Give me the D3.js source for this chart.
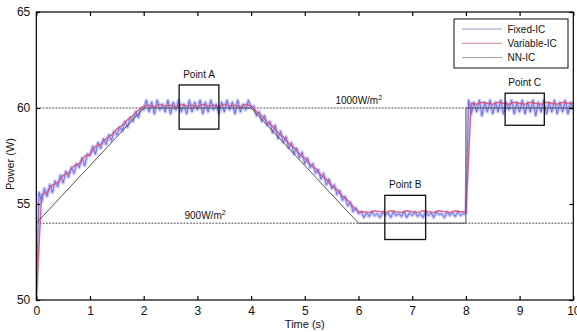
<!DOCTYPE html>
<html>
<head>
<meta charset="utf-8">
<script src="https://cdn.jsdelivr.net/npm/d3@7"></script>
<style>
  html, body { margin: 0; padding: 0; background: #fff; }
  svg { display: block; font-family: "Liberation Sans", Arial, sans-serif; }
</style>
</head>
<body>
<svg id="chart" width="577" height="332"></svg>
<script>
// ---------------- DATA ----------------
const xTicks = [0, 1, 2, 3, 4, 5, 6, 7, 8, 9, 10];
const yTicks = [50, 55, 60, 65];

const fixedStep = 0.05;
const fixedIC = [
  50.0,
  55.6, 55.1, 55.8, 55.4, 56.0, 55.6, 56.2, 55.9, 56.5, 56.1,
  56.7, 56.4, 56.9, 56.6, 57.1, 56.9, 57.4, 57.0, 57.6, 57.5,
  58.0, 57.6, 58.2, 57.9, 58.4, 58.1, 58.6, 58.3, 58.8, 58.6,
  59.0, 58.8, 59.3, 59.0, 59.5, 59.3, 59.8, 59.5, 60.0, 59.9,
  60.4, 59.8, 60.3, 59.7, 60.4, 59.9, 60.2, 59.8, 60.4, 59.7,
  60.3, 59.9, 60.4, 59.8, 60.2, 59.7, 60.4, 59.8, 60.3, 59.9,
  60.4, 59.7, 60.3, 59.8, 60.4, 59.9, 60.2, 59.7, 60.3, 59.8,
  60.4, 59.9, 60.3, 59.7, 60.4, 59.8, 60.2, 59.9, 60.4, 60.0,
  60.1, 59.6, 59.8, 59.3, 59.6, 59.1, 59.3, 58.7, 59.1, 58.4,
  58.8, 58.2, 58.5, 57.9, 58.2, 57.6, 57.9, 57.4, 57.7, 57.1,
  57.4, 56.9, 57.1, 56.6, 56.8, 56.3, 56.6, 56.0, 56.3, 55.8,
  56.0, 55.5, 55.7, 55.2, 55.4, 54.9, 55.1, 54.6, 54.8, 54.5,
  54.6, 54.3, 54.55, 54.35, 54.6, 54.4, 54.5, 54.3, 54.6, 54.4,
  54.55, 54.3, 54.6, 54.4, 54.5, 54.35, 54.6, 54.3, 54.55, 54.4,
  54.6, 54.35, 54.5, 54.3, 54.6, 54.4, 54.55, 54.3, 54.6, 54.45,
  54.5, 54.3, 54.6, 54.4, 54.55, 54.35, 54.6, 54.4, 54.5, 54.5,
  60.4, 59.7, 60.3, 59.8, 60.4, 59.6, 60.3, 59.8, 60.4, 59.7,
  60.3, 59.8, 60.4, 59.7, 60.3, 59.9, 60.4, 59.7, 60.3, 59.8,
  60.4, 59.7, 60.3, 59.8, 60.4, 59.6, 60.3, 59.8, 60.4, 59.7,
  60.3, 59.8, 60.4, 59.7, 60.3, 59.8, 60.4, 59.7, 60.3, 59.9
];

// Variable-IC, sampled every 0.1 s
const variableStep = 0.1;
const variableIC = [
  50.0,
  55.5, 55.6, 56.0, 56.1, 56.5, 56.6, 57.0, 57.1, 57.5, 57.6,
  58.0, 58.1, 58.4, 58.6, 58.9, 59.1, 59.4, 59.6, 59.9, 60.1,
  60.15, 60.05, 60.2, 60.1, 60.15, 60.05, 60.2, 60.1, 60.15, 60.05,
  60.2, 60.1, 60.15, 60.05, 60.2, 60.1, 60.15, 60.05, 60.2, 60.1,
  59.8, 59.6, 59.25, 59.05, 58.7, 58.5, 58.15, 57.95, 57.6, 57.4,
  57.05, 56.85, 56.5, 56.3, 55.95, 55.75, 55.4, 55.2, 54.85, 54.6,
  54.6, 54.55, 54.65, 54.6, 54.55, 54.65, 54.6, 54.55, 54.65, 54.6,
  54.55, 54.65, 54.6, 54.55, 54.65, 54.6, 54.55, 54.65, 54.6, 54.6,
  60.25, 60.2, 60.3, 60.25, 60.2, 60.3, 60.25, 60.2, 60.3, 60.25,
  60.2, 60.3, 60.25, 60.2, 60.3, 60.25, 60.2, 60.3, 60.25, 60.25
];

// NN-IC breakpoints
const nnTime = [0, 0, 2, 4, 6, 8, 8, 10];
const nnIC   = [50, 54, 60, 60, 54, 54, 60, 60];

// Irradiance reference lines
const refLevels = [60, 54];
const refLabels = ["1000W/m", "900W/m"];
const refLabelT = [5.57, 2.76];

// Zoom boxes
const boxLabels = ["Point A", "Point B", "Point C"];
const boxT0 = [2.66, 6.49, 8.73];
const boxT1 = [3.40, 7.25, 9.46];
const boxP0 = [58.9, 53.15, 59.1];
const boxP1 = [61.2, 55.45, 60.77];

const seriesNames = ["Fixed-IC", "Variable-IC", "NN-IC"];
const seriesColors = ["#5a5ae6", "#e0506e", "#555555"];
const legendColors = ["#9a9ad0", "#d08a90", "#9a9a9a"];

// ---------------- CHART ----------------
const svg = d3.select("#chart");
const x = d3.scaleLinear().domain([0, 10]).range([36.3, 573.3]);
const y = d3.scaleLinear().domain([50, 65]).range([300, 12]);

const plot = svg.append("g");
svg.append("defs").append("clipPath").attr("id", "clip")
  .append("rect").attr("x", x(0)).attr("y", y(65)).attr("width", x(10) - x(0)).attr("height", y(50) - y(65));

// reference dashed lines
plot.selectAll(".ref").data(refLevels).enter().append("line")
  .attr("x1", x(0)).attr("x2", x(10))
  .attr("y1", d => y(d)).attr("y2", d => y(d))
  .attr("stroke", "#444").attr("stroke-width", 1).attr("stroke-dasharray", "1.8,1.4");

const lines = plot.append("g").attr("clip-path", "url(#clip)");

const fixedData = fixedIC.map((v, i) => [i * fixedStep, v]);
const variableData = variableIC.map((v, i) => [i * variableStep, v]);
const nnData = nnIC.map((v, i) => [nnTime[i], v]);
const line = d3.line().x(d => x(d[0])).y(d => y(d[1]));

// soft halo for the noisy fixed-IC trace
lines.append("path").datum(fixedData).attr("d", line)
  .attr("fill", "none").attr("stroke", "#b4b4f8").attr("stroke-width", 3.6)
  .attr("stroke-linejoin", "round").attr("stroke-opacity", 0.75);
lines.append("path").datum(fixedData).attr("d", line)
  .attr("fill", "none").attr("stroke", seriesColors[0]).attr("stroke-width", 0.8);
lines.append("path").datum(variableData).attr("d", line)
  .attr("fill", "none").attr("stroke", seriesColors[1]).attr("stroke-width", 1.4).attr("stroke-opacity", 0.9);
lines.append("path").datum(nnData).attr("d", line)
  .attr("fill", "none").attr("stroke", seriesColors[2]).attr("stroke-width", 1);

// reference labels
refLevels.forEach((lv, i) => {
  const t = plot.append("text")
    .attr("x", x(refLabelT[i])).attr("y", y(lv) - 4)
    .attr("font-size", 10).attr("fill", "#111")
    .text(refLabels[i]);
  t.append("tspan").attr("font-size", 7).attr("dy", -4).text("2");
});

// point boxes
boxLabels.forEach((lab, i) => {
  plot.append("rect")
    .attr("x", x(boxT0[i])).attr("y", y(boxP1[i]))
    .attr("width", x(boxT1[i]) - x(boxT0[i]))
    .attr("height", y(boxP0[i]) - y(boxP1[i]))
    .attr("fill", "none").attr("stroke", "#111").attr("stroke-width", 1.3);
  plot.append("text")
    .attr("x", (x(boxT0[i]) + x(boxT1[i])) / 2).attr("y", y(boxP1[i]) - 7)
    .attr("text-anchor", "middle").attr("font-size", 10).attr("fill", "#111")
    .text(lab);
});

// frame
svg.append("rect").attr("x", x(0)).attr("y", y(65))
  .attr("width", x(10) - x(0)).attr("height", y(50) - y(65))
  .attr("fill", "none").attr("stroke", "#000").attr("stroke-width", 1.2);

// axes
const xb = svg.append("g").attr("transform", `translate(0,${y(50)})`)
  .call(d3.axisBottom(x).tickValues(xTicks).tickSizeInner(-4).tickSizeOuter(0).tickPadding(6).tickFormat(d3.format("d")));
const xt = svg.append("g").attr("transform", `translate(0,${y(65)})`)
  .call(d3.axisTop(x).tickValues(xTicks).tickSizeInner(-4).tickSizeOuter(0).tickFormat(""));
const yl = svg.append("g").attr("transform", `translate(${x(0)},0)`)
  .call(d3.axisLeft(y).tickValues(yTicks).tickSizeInner(-4).tickSizeOuter(0).tickPadding(6).tickFormat(d3.format("d")));
const yr = svg.append("g").attr("transform", `translate(${x(10)},0)`)
  .call(d3.axisRight(y).tickValues(yTicks).tickSizeInner(-4).tickSizeOuter(0).tickFormat(""));
[xb, xt, yl, yr].forEach(g => {
  g.select(".domain").remove();
  g.selectAll(".tick line").attr("stroke", "#000").attr("stroke-width", 1.2);
  g.selectAll("text").attr("font-size", 12).attr("fill", "#111")
    .attr("font-family", "'Liberation Sans', Arial, sans-serif");
});

// axis titles
svg.append("text").attr("x", (x(0) + x(10)) / 2).attr("y", 328)
  .attr("text-anchor", "middle").attr("font-size", 11).attr("fill", "#111").text("Time (s)");
svg.append("text").attr("transform", `translate(14,${(y(50) + y(65)) / 2 + 8}) rotate(-90)`)
  .attr("text-anchor", "middle").attr("font-size", 11).attr("fill", "#111").text("Power (W)");

// legend
const lg = svg.append("g");
lg.append("rect").attr("x", 454).attr("y", 19).attr("width", 114).attr("height", 49)
  .attr("fill", "#fff").attr("stroke", "#111").attr("stroke-width", 1);
seriesNames.forEach((n, i) => {
  const yy = 29 + i * 14.3;
  lg.append("line").attr("x1", 462).attr("x2", 502).attr("y1", yy).attr("y2", yy)
    .attr("stroke", legendColors[i]).attr("stroke-width", 1);
  lg.append("text").attr("x", 507.5).attr("y", yy + 3.5).attr("font-size", 10).attr("fill", "#111").text(n);
});
</script>
</body>
</html>
